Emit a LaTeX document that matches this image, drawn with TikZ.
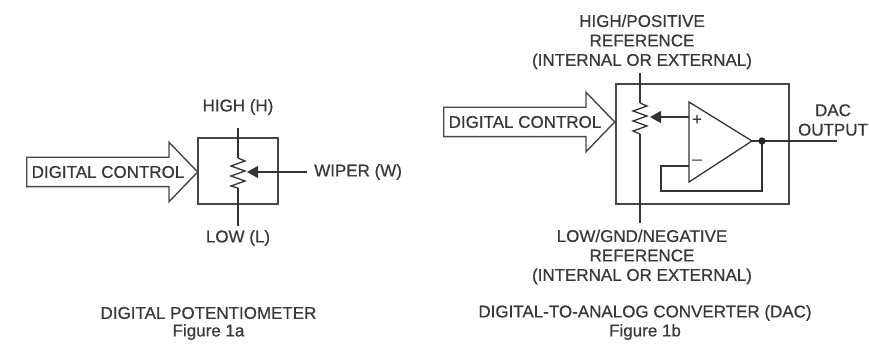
\documentclass[tikz,border=0pt]{standalone}
\usepackage{fontspec}
\setmainfont[RawFeature={embolden=0.6}]{Liberation Sans}
\usetikzlibrary{arrows.meta,shapes.arrows}

\begin{document}
\begin{tikzpicture}[x=0.03cm,y=-0.03cm]
\tikzset{
  wire/.style={line width=1.1pt,draw=black!80},
  directed/.style={wire,-{Triangle[length=3.3mm,width=3.6mm]}},
  labeltext/.style={font=\fontsize{14.5}{16.6}\selectfont,text=black!78,inner sep=0pt,align=center},
  blockbox/.style={rectangle,draw=black!72,line width=1.2pt,inner sep=0pt},
  busarrow/.style={single arrow,draw=black!72,line width=1.2pt,inner xsep=0pt,inner ysep=0.42cm,
    minimum height=5.13cm,single arrow head extend=0.45cm,single arrow tip angle=92}
}
\useasboundingbox (0,0) rectangle (869,346);
% figure 1a
\node[blockbox,minimum width=2.4cm,minimum height=1.98cm] (box_a) at (238,171) {};
\node[busarrow,anchor=west] (bus_a) at (26,172) {};
\node[labeltext] (ctrl_a) at (108,172) {DIGITAL CONTROL};
\node[labeltext] (high_a) at (238,107) {HIGH (H)};
\node[labeltext] (low_a) at (238,238) {LOW (L)};
\node[labeltext,anchor=west] (wiper_a) at (314,172) {WIPER (W)};
\node[labeltext] (title_a) at (208.5,313) {DIGITAL POTENTIOMETER};
\node[labeltext] (fig_a) at (208.5,332) {Figure 1a};
\coordinate (h_a) at (238,128);
\coordinate (l_a) at (238,226);
\coordinate (rt_a) at (238,158);
\coordinate (rb_a) at (238,188);
\coordinate (w_a) at (307,172);
\coordinate (tip_a) at (247,172);
\draw[wire] (h_a) -- (rt_a);
\draw[wire] (rt_a) -- ++(7,3) -- ++(-14,5) -- ++(14,5) -- ++(-14,5) -- ++(14,5) -- ++(-14,5) -- ++(7,2) -- (rb_a);
\draw[wire] (rb_a) -- (l_a);
\draw[directed] (w_a) -- (tip_a);
% figure 1b
\node[blockbox,minimum width=5.19cm,minimum height=3.6cm] (box_b) at (702.5,144) {};
\node[busarrow,anchor=west] (bus_b) at (443,122) {};
\node[labeltext] (ctrl_b) at (525,122) {DIGITAL CONTROL};
\node[labeltext] (high_b) at (642,42) {HIGH/POSITIVE\\REFERENCE\\(INTERNAL OR EXTERNAL)};
\node[labeltext] (low_b) at (642,257) {LOW/GND/NEGATIVE\\REFERENCE\\(INTERNAL OR EXTERNAL)};
\node[labeltext] (out_b) at (833,120) {DAC\\OUTPUT};
\node[labeltext] (title_b) at (645,313) {DIGITAL-TO-ANALOG CONVERTER (DAC)};
\node[labeltext] (fig_b) at (645,332) {Figure 1b};
\node[labeltext] (plus_b) at (697,120) {+};
\node[labeltext] (minus_b) at (697,162) {\textendash};
\coordinate (h_b) at (640,73);
\coordinate (l_b) at (640,223);
\coordinate (rt_b) at (640,103);
\coordinate (rb_b) at (640,134);
\coordinate (tip_b) at (650,117);
\coordinate (inp_b) at (689,117);
\coordinate (inm_b) at (689,166);
\coordinate (amp_t) at (689,102);
\coordinate (amp_b) at (689,182);
\coordinate (amp_o) at (752,141);
\coordinate (fb_a) at (661,166);
\coordinate (fb_b) at (661,191);
\coordinate (fb_c) at (762,191);
\coordinate (dot_b) at (762,141);
\coordinate (o_b) at (837,141);
\draw[wire] (h_b) -- (rt_b);
\draw[wire] (rt_b) -- ++(7,3) -- ++(-14,5) -- ++(14,5) -- ++(-14,5) -- ++(14,5) -- ++(-14,5) -- ++(7,3) -- (rb_b);
\draw[wire] (rb_b) -- (l_b);
\draw[wire,line join=miter] (amp_t) -- (amp_o) -- (amp_b) -- cycle;
\draw[directed] (inp_b) -- (tip_b);
\draw[wire] (inm_b) -- (fb_a) -- (fb_b) -- (fb_c) -- (dot_b);
\draw[wire] (amp_o) -- (o_b);
\fill[black!85] (dot_b) circle (0.11cm);
\end{tikzpicture}
\end{document}
